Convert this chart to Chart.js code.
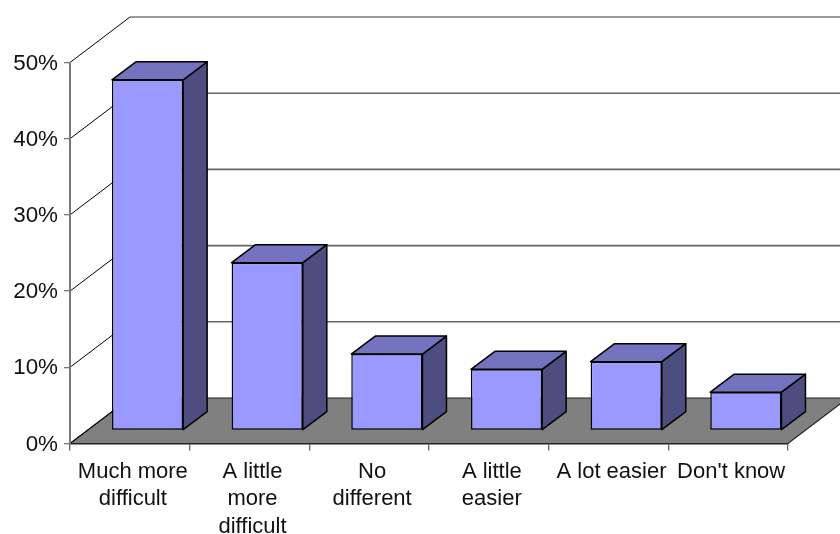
<!DOCTYPE html>
<html>
<head>
<meta charset="utf-8">
<style>
html, body { margin: 0; padding: 0; background: #fff; }
canvas { display: block; }
</style>
<script src="https://cdn.jsdelivr.net/npm/chart.js@4"></script>
</head>
<body>
<canvas id="chart" width="840" height="534"></canvas>
<script>
// Survey answers and their share of respondents, in percent
const categories = [
  ['Much more', 'difficult'],
  ['A little', 'more', 'difficult'],
  ['No', 'different'],
  ['A little', 'easier'],
  'A lot easier',
  "Don't know"
];
const shares = [46, 22, 10, 8, 9, 5];
const yTicks = [0, 10, 20, 30, 40, 50];

const FACE = '#9999ff', SIDE = '#4d4d80', TOP = '#7373bf', FLOOR = '#808080';
const WALL = { dx: 60, dy: -45.5 };    // depth of the chart box
const INSET = { dx: 17.7, dy: -13.2 }; // where the bars stand on the floor
const BAR = { dx: 24, dy: -18 };       // depth of a single bar

function poly(ctx, pts) {
  ctx.beginPath();
  pts.forEach((p, i) => i ? ctx.lineTo(p[0], p[1]) : ctx.moveTo(p[0], p[1]));
  ctx.closePath();
}

// Floor and walls of the box, painted before the axes
const box3d = {
  id: 'box3d',
  beforeDraw(chart) {
    const { ctx, scales: { x, y } } = chart;
    const y0 = y.getPixelForValue(0);
    ctx.save();
    ctx.fillStyle = FLOOR;
    ctx.strokeStyle = '#222';
    ctx.lineWidth = 1.2;
    poly(ctx, [[x.left, y0], [x.left + WALL.dx, y0 + WALL.dy],
               [x.right + WALL.dx, y0 + WALL.dy], [x.right, y0]]);
    ctx.fill();
    ctx.stroke();
    yTicks.forEach(v => {
      const py = y.getPixelForValue(v);
      ctx.strokeStyle = '#000';
      ctx.lineWidth = 1;
      ctx.beginPath();
      ctx.moveTo(x.left, py);
      ctx.lineTo(x.left + WALL.dx, py + WALL.dy);
      ctx.stroke();
      if (v > 0) {
        ctx.strokeStyle = v === 50 ? '#333' : '#666';
        ctx.lineWidth = v === 50 ? 1 : 1.6;
        ctx.beginPath();
        ctx.moveTo(x.left + WALL.dx, py + WALL.dy);
        ctx.lineTo(chart.width, py + WALL.dy);
        ctx.stroke();
      }
    });
    ctx.restore();
  },
  // Side and top of each bar, then shift the plane the front faces are drawn in
  beforeDatasetDraw(chart, args) {
    const { ctx } = chart;
    ctx.save();
    ctx.translate(INSET.dx, INSET.dy);
    ctx.strokeStyle = '#000';
    ctx.lineWidth = 1.5;
    ctx.lineJoin = 'round';
    args.meta.data.forEach(bar => {
      const { x, y, base, width } = bar.getProps(['x', 'y', 'base', 'width'], true);
      const l = x - width / 2, r = x + width / 2;
      ctx.fillStyle = SIDE;
      poly(ctx, [[r, y], [r + BAR.dx, y + BAR.dy], [r + BAR.dx, base + BAR.dy], [r, base]]);
      ctx.fill();
      ctx.stroke();
      ctx.fillStyle = TOP;
      poly(ctx, [[l, y], [l + BAR.dx, y + BAR.dy], [r + BAR.dx, y + BAR.dy], [r, y]]);
      ctx.fill();
      ctx.stroke();
    });
  },
  afterDatasetDraw(chart) {
    chart.ctx.restore();
  }
};

new Chart(document.getElementById('chart'), {
  type: 'bar',
  data: {
    labels: categories,
    datasets: [{
      data: shares,
      backgroundColor: FACE,
      borderColor: '#000',
      borderWidth: 1.5,
      borderSkipped: false,
      barPercentage: 0.595,
      categoryPercentage: 1,
      clip: false
    }]
  },
  plugins: [box3d],
  options: {
    responsive: false,
    animation: false,
    layout: { padding: { top: 62.5, right: 52, left: 0, bottom: 0 } },
    plugins: { legend: { display: false }, tooltip: { enabled: false } },
    scales: {
      x: {
        afterFit(s) { s.height = 90.5; },
        grid: { drawOnChartArea: false, drawTicks: true, tickLength: 7, color: '#666', lineWidth: 1.3, offset: true },
        border: { color: '#222', width: 1.4 },
        ticks: {
          autoSkip: false, maxRotation: 0, minRotation: 0, padding: 7, labelOffset: 3,
          color: '#111',
          font: { family: '"Liberation Sans", Arial, sans-serif', size: 22, lineHeight: 1.27 }
        }
      },
      y: {
        min: 0, max: 50,
        afterFit(s) { s.width = 70; },
        grid: { drawOnChartArea: false, drawTicks: true, tickLength: 6, color: '#777', lineWidth: 1.3 },
        border: { color: '#777', width: 2 },
        ticks: {
          stepSize: 10, padding: 6, color: '#111', labelOffset: 1,
          callback: v => v + '%',
          font: { family: '"Liberation Sans", Arial, sans-serif', size: 22.4 }
        }
      }
    }
  }
});
</script>
</body>
</html>
